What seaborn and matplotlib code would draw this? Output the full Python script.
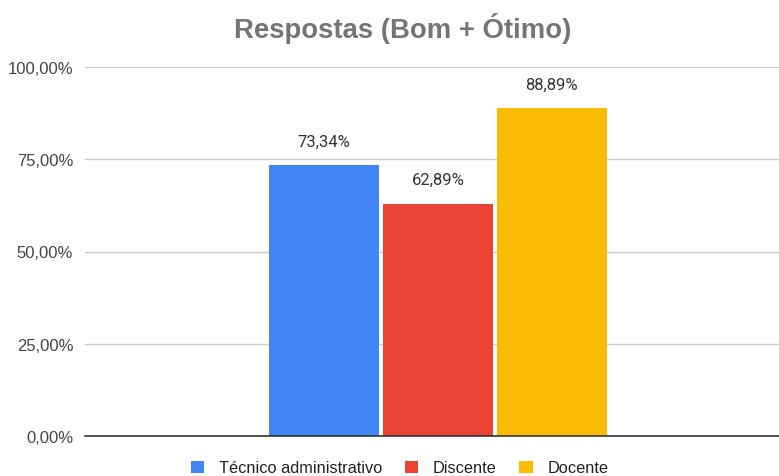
import matplotlib
matplotlib.use("Agg")
import matplotlib.pyplot as plt
import seaborn as sns
import pandas as pd
from matplotlib.ticker import FuncFormatter
from matplotlib.patches import Patch

series = ["Técnico administrativo", "Discente", "Docente"]
values = [73.34, 62.89, 88.89]
colors = ["#4285F4", "#EA4335", "#FBBC04"]
yticks = [0, 25, 50, 75, 100]
title = "Respostas (Bom + Ótimo)"

df = pd.DataFrame({"grupo": [""] * 3, "serie": series, "valor": values})

sns.set_theme(style="white")
plt.rcParams["font.family"] = ["Liberation Sans", "DejaVu Sans"]

fig = plt.figure(figsize=(7.79, 4.77), dpi=100)
ax = fig.add_axes([85 / 779, 1 - 437 / 477, 694 / 779, 369 / 477])

sns.barplot(data=df, x="grupo", y="valor", hue="serie", hue_order=series,
            palette=colors, saturation=1, gap=0.03, ax=ax, legend=False,
            edgecolor="none")

ax.set_ylim(0, 100)
ax.set_xlim(-0.827, 0.799)
ax.set_yticks(yticks)
ax.yaxis.set_major_formatter(FuncFormatter(lambda v, p: f"{v:.2f}%".replace(".", ",")))
ax.grid(axis="y", color="#cccccc", linewidth=1)
ax.set_axisbelow(True)
for s in ["top", "right", "left"]:
    ax.spines[s].set_visible(False)
ax.spines["bottom"].set_color("#333333")
ax.spines["bottom"].set_linewidth(1.2)
ax.set_xticks([])
ax.set_xlabel("")
ax.set_ylabel("")
ax.tick_params(axis="y", length=0, pad=8.5, labelsize=12, labelcolor="#444444")

for cont in ax.containers:
    ax.bar_label(cont, labels=[f"{v:.2f}%".replace(".", ",") for v in cont.datavalues],
                 padding=12, fontsize=12, color="#333333", family=["Roboto", "DejaVu Sans"])

fig.text(0.5 + 13 / 779, 1 - 29 / 477, title, ha="center", va="center",
         fontsize=19.8, fontweight="bold", color="#757575")

handles = [Patch(facecolor=c, edgecolor="none") for c in colors]
fig.legend(handles, series, loc="center", bbox_to_anchor=(0.5 + 10 / 779, 1 - 469 / 477),
           ncol=3, frameon=False, fontsize=11.8, handlelength=0.8, handleheight=0.8,
           handletextpad=0.9, columnspacing=1.4, labelcolor="#222222")

fig.savefig("out.png", dpi=100, facecolor="white")
